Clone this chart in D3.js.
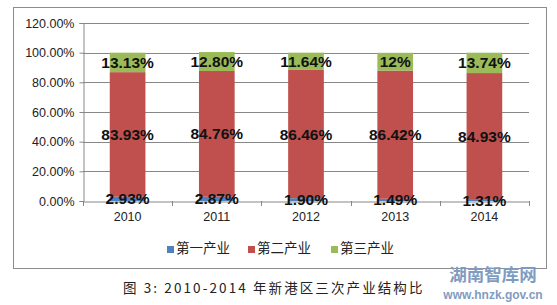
<!DOCTYPE html>
<html lang="zh">
<head>
<meta charset="UTF-8">
<title>2010-2014 年新港区三次产业结构比</title>
<script src="https://d3js.org/d3.v7.min.js"></script>
<style>
  body { margin: 0; background: #fff; }
  svg text { font-family: "Liberation Sans", Arial, sans-serif; }
</style>
</head>
<body>
<svg id="chart" width="557" height="305"></svg>
<script>
// data
var years = ["2010", "2011", "2012", "2013", "2014"];
var seriesNames = ["第一产业", "第二产业", "第三产业"];
var primary = [2.93, 2.87, 1.90, 1.49, 1.31];
var secondary = [83.93, 84.76, 86.46, 86.42, 84.93];
var tertiary = [13.13, 12.80, 11.64, 12, 13.74];
var tertiaryLabels = ["13.13%", "12.80%", "11.64%", "12%", "13.74%"];
var yTicks = [0, 20, 40, 60, 80, 100, 120];

var colors = ["#4F81BD", "#C0504D", "#9BBB59"];

var svg = d3.select("#chart");

// outer chart border
svg.append("rect")
  .attr("x", 13.5).attr("y", 7.5)
  .attr("width", 533).attr("height", 261)
  .attr("fill", "#fff")
  .attr("stroke", "#8c8c8c");

var x = d3.scaleBand()
  .domain(years)
  .range([83, 529])
  .paddingInner(0.6)
  .paddingOuter(0.3);

var y = d3.scaleLinear()
  .domain([0, 120])
  .range([201, 23]);

// gridlines
svg.append("g")
  .selectAll("line")
  .data(yTicks.filter(function (d) { return d > 0; }))
  .enter().append("line")
  .attr("x1", 83).attr("x2", 529)
  .attr("y1", function (d) { return Math.round(y(d)) + 0.5; })
  .attr("y2", function (d) { return Math.round(y(d)) + 0.5; })
  .attr("stroke", "#878787");

// y axis
var yAxis = svg.append("g")
  .attr("transform", "translate(83.5,0)")
  .call(d3.axisLeft(y).tickValues(yTicks).tickSize(4)
    .tickFormat(function (d) { return d.toFixed(2) + "%"; }));
yAxis.select(".domain").attr("stroke", "#878787");
yAxis.selectAll(".tick line").attr("stroke", "#878787");
yAxis.selectAll("text")
  .attr("x", -9)
  .attr("font-size", 12.5)
  .attr("font-family", "Liberation Sans, Arial, sans-serif")
  .attr("fill", "#222");

// stacked bars
var table = years.map(function (yr, i) {
  return { year: yr, a: primary[i], b: secondary[i], c: tertiary[i] };
});
var stack = d3.stack().keys(["a", "b", "c"]);
var layers = stack(table);

svg.append("g")
  .selectAll("g")
  .data(layers)
  .enter().append("g")
  .attr("fill", function (d, i) { return colors[i]; })
  .selectAll("rect")
  .data(function (d) { return d; })
  .enter().append("rect")
  .attr("x", function (d) { return x(d.data.year); })
  .attr("width", x.bandwidth())
  .attr("y", function (d) { return y(d[1]); })
  .attr("height", function (d) { return y(d[0]) - y(d[1]); });

// x axis
var xAxis = svg.append("g")
  .attr("transform", "translate(0,201.5)")
  .call(d3.axisBottom(x).tickSize(0).tickPadding(11));
xAxis.select(".domain").attr("stroke", "#878787");
xAxis.selectAll("text")
  .attr("font-size", 12.5)
  .attr("font-family", "Liberation Sans, Arial, sans-serif")
  .attr("fill", "#222");

// category boundary ticks
svg.append("g")
  .selectAll("line")
  .data(d3.range(years.length + 1))
  .enter().append("line")
  .attr("x1", function (i) { return Math.round(83 + i * (529 - 83) / years.length) + 0.5; })
  .attr("x2", function (i) { return Math.round(83 + i * (529 - 83) / years.length) + 0.5; })
  .attr("y1", 201).attr("y2", 206)
  .attr("stroke", "#878787");

// data labels
var labelSets = [
  primary.map(function (v) { return v.toFixed(2) + "%"; }),
  secondary.map(function (v) { return v.toFixed(2) + "%"; }),
  tertiaryLabels
];
layers.forEach(function (layer, li) {
  svg.append("g")
    .selectAll("text")
    .data(layer)
    .enter().append("text")
    .attr("x", function (d) { return x(d.data.year) + x.bandwidth() / 2; })
    .attr("y", function (d) { return y((d[0] + d[1]) / 2); })
    .attr("dy", "0.36em")
    .attr("text-anchor", "middle")
    .attr("font-size", 15.5)
    .attr("font-weight", "bold")
    .attr("fill", "#111")
    .text(function (d, i) { return labelSets[li][i]; });
});

// legend
var legendX = [167, 248, 331];
var legend = svg.append("g")
  .selectAll("g")
  .data(seriesNames)
  .enter().append("g")
  .attr("transform", function (d, i) { return "translate(" + legendX[i] + ",248)"; });
legend.append("rect")
  .attr("x", 0).attr("y", -2)
  .attr("width", 7).attr("height", 7)
  .attr("fill", function (d, i) { return colors[i]; });
legend.append("text")
  .attr("x", 9).attr("y", 0)
  .attr("dy", "0.36em")
  .attr("font-size", 13.5)
  .style("font-family", "'Noto Sans CJK SC', sans-serif")
  .attr("fill", "#222")
  .text(function (d) { return d; });

// caption
svg.append("text")
  .attr("x", 123).attr("y", 288)
  .attr("dy", "0.36em")
  .attr("font-size", 13.5)
  .attr("letter-spacing", "2.1px")
  .style("font-family", "'Noto Sans CJK SC', sans-serif")
  .attr("fill", "#222")
  .text("图 3: 2010-2014 年新港区三次产业结构比");

// watermark
svg.append("text")
  .attr("x", 493).attr("y", 275)
  .attr("dy", "0.36em")
  .attr("text-anchor", "middle")
  .attr("font-size", 17.5)
  .attr("font-weight", "bold")
  .style("font-family", "'Noto Sans CJK SC', sans-serif")
  .attr("fill", "#7f9cc0")
  .text("湖南智库网");
svg.append("text")
  .attr("x", 493).attr("y", 295)
  .attr("dy", "0.36em")
  .attr("text-anchor", "middle")
  .attr("font-size", 12)
  .attr("font-weight", "bold")
  .attr("fill", "#7f9cc0")
  .text("www.hnzk.gov.cn");
</script>
</body>
</html>
